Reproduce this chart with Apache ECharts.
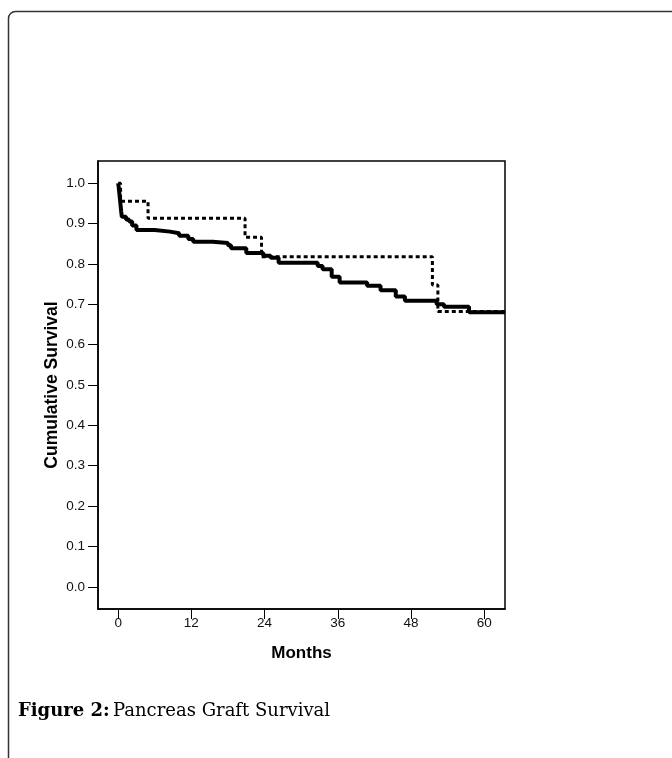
<!DOCTYPE html>
<html>
<head>
<meta charset="utf-8">
<script src="https://cdn.jsdelivr.net/npm/echarts@6/dist/echarts.min.js"></script>
<style>
html,body{margin:0;padding:0;background:#fff;}
#c{width:672px;height:758px;}
</style>
</head>
<body>
<div id="c"></div>
<script>
// Solid curve (step function, value holds from each month onward)
const solidMonths   = [0, 0.1, 0.2, 0.3, 0.4, 0.5, 0.6, 1.3, 1.8, 2.3, 3.0, 6.0, 8.5, 10.0, 11.5, 12.3, 15.5, 18.0, 18.5, 21.0, 23.8, 25.0, 26.3, 32.7, 33.5, 35.0, 36.3, 40.8, 43.0, 45.5, 47.0, 52.2, 53.4, 57.5, 63.4];
const solidSurvival = [1.0, 0.99, 0.975, 0.96, 0.945, 0.93, 0.917, 0.91, 0.905, 0.895, 0.884, 0.88, 0.876, 0.87, 0.862, 0.855, 0.852, 0.846, 0.839, 0.827, 0.82, 0.815, 0.803, 0.795, 0.787, 0.768, 0.754, 0.746, 0.735, 0.719, 0.709, 0.70, 0.694, 0.68, 0.68];
// Dashed curve
const dashedMonths   = [0, 0.4, 4.9, 20.8, 23.5, 51.5, 52.4, 63.4];
const dashedSurvival = [1.0, 0.955, 0.913, 0.866, 0.818, 0.748, 0.682, 0.682];
// Tick labels
const xTicks = [0, 12, 24, 36, 48, 60];
const yTicks = [0.0, 0.1, 0.2, 0.3, 0.4, 0.5, 0.6, 0.7, 0.8, 0.9, 1.0];

const zip = (a, b) => a.map((v, i) => [v, b[i]]);

const chart = echarts.init(document.getElementById('c'), null, {renderer: 'canvas'});
const axisFont = 'Liberation Sans, Arial, sans-serif';
chart.setOption({
  animation: false,
  backgroundColor: '#fff',
  grid: {
    left: 98, top: 161, width: 407, height: 448,
    show: true, borderColor: '#000', borderWidth: 1.5, backgroundColor: 'transparent'
  },
  xAxis: {
    type: 'value', min: -3.3, max: 63.4,
    splitLine: {show: false},
    axisLine: {show: true, onZero: false, lineStyle: {color: '#000', width: 1.5}},
    axisTick: {show: true, length: 10, lineStyle: {color: '#000', width: 1}, customValues: xTicks},
    axisLabel: {color: '#111', fontFamily: axisFont, fontSize: 13.5, margin: 7, customValues: xTicks},
    name: 'Months', nameLocation: 'middle', nameGap: 36, nameMoveOverlap: false,
    nameTextStyle: {color: '#000', fontFamily: axisFont, fontSize: 17, fontWeight: 'bold'}
  },
  yAxis: {
    type: 'value', min: -0.055, max: 1.055,
    splitLine: {show: false},
    axisLine: {show: true, onZero: false, lineStyle: {color: '#000', width: 1.5}},
    axisTick: {show: true, length: 10, lineStyle: {color: '#000', width: 1}, customValues: yTicks},
    axisLabel: {color: '#111', fontFamily: axisFont, fontSize: 13.5, margin: 13, customValues: yTicks,
      formatter: v => v.toFixed(1)},
    name: 'Cumulative Survival', nameLocation: 'middle', nameGap: 37, nameMoveOverlap: false,
    nameTextStyle: {color: '#000', fontFamily: axisFont, fontSize: 17.5, fontWeight: 'bold'}
  },
  series: [
    {
      type: 'line', step: 'end', symbol: 'none', clip: true,
      data: zip(dashedMonths, dashedSurvival),
      lineStyle: {color: '#000', width: 3, type: [4, 3], cap: 'butt'}
    },
    {
      type: 'line', step: 'end', symbol: 'none', clip: true,
      data: zip(solidMonths, solidSurvival),
      lineStyle: {color: '#000', width: 4}
    }
  ],
  graphic: [
    {
      type: 'rect', silent: true,
      shape: {x: 8.5, y: 11.5, width: 720, height: 800, r: 7},
      style: {fill: 'none', stroke: '#333', lineWidth: 1.5}
    },
    {
      type: 'text', left: 18, top: 702,
      style: {
        text: '{b|Figure 2:} {n|Pancreas Graft Survival}',
        rich: {
          b: {fontFamily: 'DejaVu Serif, serif', fontWeight: 'bold', fontSize: 18, fill: '#000'},
          n: {fontFamily: 'DejaVu Serif, serif', fontSize: 18, fill: '#000'}
        }
      }
    }
  ]
});
</script>
</body>
</html>
